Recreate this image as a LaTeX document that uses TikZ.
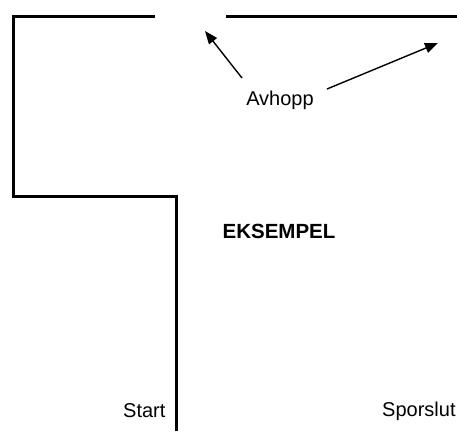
\documentclass[tikz,border=0pt]{standalone}
\usepackage{fontspec}
\setmainfont{Liberation Sans}
\usetikzlibrary{arrows.meta}

\begin{document}
\begin{tikzpicture}[x=1pt, y=-1pt]
        \useasboundingbox (0,0) rectangle (457,431);

        {\tikzstyle{every node}=[inner sep=0pt, font=\fontsize{20}{24}\selectfont]
          \node (avhopp) at (280,100) {Avhopp};
          \node[font=\fontsize{20.5}{24}\selectfont\bfseries] (eksempel) at (279,231) {EKSEMPEL};
          \node[anchor=west] (start) at (123,411) {Start};
          \node[anchor=west] (sporslut) at (382,411) {Sporslut};
        }

        \coordinate (leftgap) at (205,31);
        \coordinate (rightgap) at (438,43);
        \coordinate (tail0) at (242,78);
        \coordinate (tail1) at (327,89);

        \draw [line width=3pt, line join=miter]
          (155,16) -- (13,16) -- (13,196) -- (176,196) -- (176,431)
          (226,16) -- (457,16);

        \draw [line width=1.4pt, -{Triangle[length=13pt, width=10pt]}]
          (tail0) -- (leftgap);
        \draw [line width=1.4pt, -{Triangle[length=13pt, width=10pt]}]
          (tail1) -- (rightgap);
      \end{tikzpicture}
\end{document}
